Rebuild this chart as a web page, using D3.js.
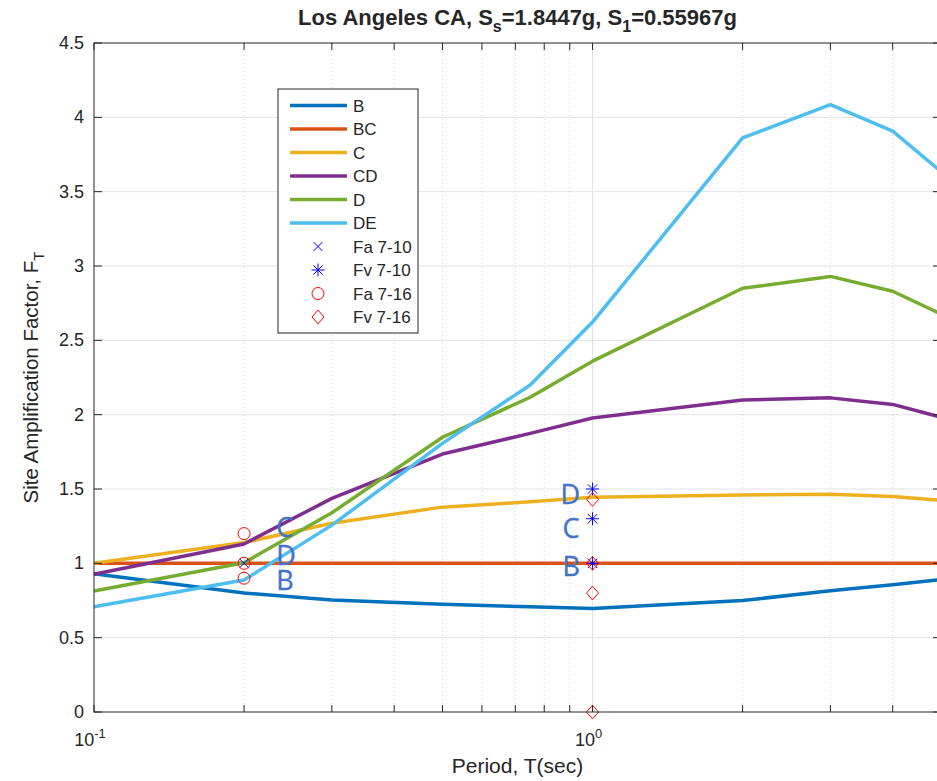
<!DOCTYPE html>
<html>
<head>
<meta charset="utf-8">
<script src="https://cdn.jsdelivr.net/npm/d3@7"></script>
<style>
body { margin: 0; background: #fff; }
text { font-family: "Liberation Sans", Arial, sans-serif; fill: #262626; }
</style>
</head>
<body>
<script>
// size of the page
var w = 937;
var h = 781;
var plot = { left: 94, right: 941, top: 43, bottom: 712 };

// periods where site factors were evaluated
const periods = [0.1, 0.2, 0.3, 0.5, 0.75, 1, 2, 3, 4, 5];

// site amplification factor per site class
const siteB  = [0.93, 0.80, 0.753, 0.724, 0.708, 0.697, 0.75, 0.815, 0.856, 0.89];
const siteBC = [1, 1, 1, 1, 1, 1, 1, 1, 1, 1];
const siteC  = [1.0, 1.14, 1.27, 1.378, 1.414, 1.444, 1.46, 1.465, 1.449, 1.424];
const siteCD = [0.926, 1.13, 1.437, 1.735, 1.874, 1.978, 2.098, 2.113, 2.069, 1.983];
const siteD  = [0.814, 1.004, 1.34, 1.848, 2.117, 2.36, 2.85, 2.93, 2.83, 2.677];
const siteDE = [0.708, 0.888, 1.257, 1.807, 2.20, 2.623, 3.862, 4.085, 3.907, 3.635];

const seriesNames = ["B", "BC", "C", "CD", "D", "DE"];
const seriesValues = [siteB, siteBC, siteC, siteCD, siteD, siteDE];
const seriesColors = ["#0072BD", "#D95319", "#EDB120", "#7E2F8E", "#77AC30", "#4DBEEE"];

// code table factors (ASCE 7-10 and 7-16)
const fa710T = [0.2];
const fa710  = [1.0];
const fv710T = [1, 1, 1];
const fv710  = [1.5, 1.3, 1.0];
const fa716T = [0.2, 0.2, 0.2];
const fa716  = [1.2, 1.0, 0.9];
const fv716T = [1, 1, 1, 1];
const fv716  = [1.43, 1.0, 0.8, 0];

// class labels written next to the table factors
const noteText = ["C", "D", "B", "D", "C", "B"];
const noteT    = [0.232, 0.232, 0.232, 0.862, 0.87, 0.87];
const noteF    = [1.177, 0.989, 0.82, 1.40, 1.17, 0.915];

// axis ticks
const yTicks = d3.range(0, 4.51, 0.5);
const yTickLabels = ["0", "0.5", "1", "1.5", "2", "2.5", "3", "3.5", "4", "4.5"];
const xMajor = [0.1, 1];
const xMajorExp = ["-1", "0"];
const xMinor = [0.2, 0.3, 0.4, 0.5, 0.6, 0.7, 0.8, 0.9, 2, 3, 4];

const x = d3.scaleLog().domain([0.1, 5]).range([plot.left, plot.right]);
const y = d3.scaleLinear().domain([0, 4.5]).range([plot.bottom, plot.top]);

const svg = d3.select("body").append("svg")
    .attr("width", w)
    .attr("height", h);

svg.append("rect").attr("width", w).attr("height", h).attr("fill", "#fff");

// grid
const grid = svg.append("g");
grid.selectAll(".gy").data(yTicks.slice(1, -1)).enter().append("line")
    .attr("x1", plot.left).attr("x2", plot.right)
    .attr("y1", d => y(d)).attr("y2", d => y(d))
    .attr("stroke", "#e3e3e3").attr("stroke-width", 1);
grid.selectAll(".gxm").data(xMinor).enter().append("line")
    .attr("x1", d => x(d)).attr("x2", d => x(d))
    .attr("y1", plot.top).attr("y2", plot.bottom)
    .attr("stroke", "#c8c8c8").attr("stroke-width", 0.8)
    .attr("stroke-dasharray", "1,3");
grid.append("line")
    .attr("x1", x(1)).attr("x2", x(1))
    .attr("y1", plot.top).attr("y2", plot.bottom)
    .attr("stroke", "#e3e3e3").attr("stroke-width", 1);

// lines
const line = d3.line()
    .x((d, i) => x(periods[i]))
    .y(d => y(d));

svg.append("g").selectAll("path")
    .data(seriesValues)
    .enter()
    .append("path")
    .attr("d", d => line(d))
    .attr("fill", "none")
    .attr("stroke", (d, i) => seriesColors[i])
    .attr("stroke-width", 3.5)
    .attr("stroke-linejoin", "round");

// marker shapes
function xMark(s) { return `M${-s},${-s}L${s},${s}M${-s},${s}L${s},${-s}`; }
function starMark(s) {
    const d = s * 0.72;
    return `M0,${-s}L0,${s}M${-s},0L${s},0M${-d},${-d}L${d},${d}M${-d},${d}L${d},${-d}`;
}
function diamondMark(s) { return `M0,${-s * 1.15}L${s},0L0,${s * 1.15}L${-s},0Z`; }

function drawMarks(ts, vs, kind, color) {
    const g = svg.append("g");
    vs.forEach((v, i) => {
        const px = x(ts[i]), py = y(v);
        if (kind === "o") {
            g.append("circle").attr("cx", px).attr("cy", py).attr("r", 6)
                .attr("fill", "none").attr("stroke", color).attr("stroke-width", 1);
        } else {
            const p = kind === "x" ? xMark(4.5) : kind === "*" ? starMark(6.5) : diamondMark(6);
            g.append("path").attr("d", p).attr("transform", `translate(${px},${py})`)
                .attr("fill", "none").attr("stroke", color).attr("stroke-width", 1);
        }
    });
}
drawMarks(fa710T, fa710, "x", "#0000ff");
drawMarks(fv710T, fv710, "*", "#0000ff");
drawMarks(fa716T, fa716, "o", "#ff0000");
drawMarks(fv716T, fv716, "d", "#ff0000");

// class annotations
svg.append("g").selectAll("text")
    .data(noteText)
    .enter()
    .append("text")
    .attr("x", (d, i) => x(noteT[i]))
    .attr("y", (d, i) => y(noteF[i]))
    .style("font-family", "'Open Sans', 'Noto Sans', sans-serif")
    .style("font-size", "27px")
    .style("fill", "#4472C4")
    .style("stroke", "#4472C4")
    .style("stroke-width", 0.4)
    .text(d => d);

// axes box
const axis = svg.append("g").attr("stroke", "#262626").attr("stroke-width", 1);
axis.append("rect")
    .attr("x", plot.left).attr("y", plot.top)
    .attr("width", plot.right - plot.left).attr("height", plot.bottom - plot.top)
    .attr("fill", "none");

// y ticks on both sides
axis.selectAll(".ytl").data(yTicks).enter().append("line")
    .attr("x1", plot.left).attr("x2", plot.left + 8)
    .attr("y1", d => y(d)).attr("y2", d => y(d));
axis.selectAll(".ytr").data(yTicks).enter().append("line")
    .attr("x1", plot.right).attr("x2", plot.right - 8)
    .attr("y1", d => y(d)).attr("y2", d => y(d));

// x ticks on top and bottom
const xAll = xMajor.concat(xMinor);
axis.selectAll(".xtb").data(xAll).enter().append("line")
    .attr("x1", d => x(d)).attr("x2", d => x(d))
    .attr("y1", plot.bottom).attr("y2", plot.bottom - 7);
axis.selectAll(".xtt").data(xAll).enter().append("line")
    .attr("x1", d => x(d)).attr("x2", d => x(d))
    .attr("y1", plot.top).attr("y2", plot.top + 7);

// tick labels
svg.append("g").selectAll("text")
    .data(yTicks)
    .enter()
    .append("text")
    .attr("x", plot.left - 10)
    .attr("y", d => y(d) + 6)
    .attr("text-anchor", "end")
    .style("font-size", "18px")
    .text((d, i) => yTickLabels[i]);

const xl = svg.append("g").selectAll("text")
    .data(xMajor)
    .enter()
    .append("text")
    .attr("x", d => x(d) - 4)
    .attr("y", 746)
    .attr("text-anchor", "middle")
    .style("font-size", "18px");
xl.append("tspan").text("10");
xl.append("tspan").attr("dy", -8).style("font-size", "13px").text((d, i) => xMajorExp[i]);

// axis titles
svg.append("text")
    .attr("x", (plot.left + plot.right) / 2)
    .attr("y", 773)
    .attr("text-anchor", "middle")
    .style("font-size", "21px")
    .text("Period, T(sec)");

const yl = svg.append("text")
    .attr("transform", `translate(38,${(plot.top + plot.bottom) / 2}) rotate(-90)`)
    .attr("text-anchor", "middle")
    .style("font-size", "20.5px");
yl.append("tspan").text("Site Amplification Factor, F");
yl.append("tspan").attr("dy", 6).style("font-size", "15px").text("T");

const title = svg.append("text")
    .attr("x", (plot.left + plot.right) / 2)
    .attr("y", 25)
    .attr("text-anchor", "middle")
    .style("font-size", "22px")
    .style("font-weight", "bold");
title.append("tspan").text("Los Angeles CA, S");
title.append("tspan").attr("dy", 7).style("font-size", "16px").text("s");
title.append("tspan").attr("dy", -7).text("=1.8447g, S");
title.append("tspan").attr("dy", 7).style("font-size", "16px").text("1");
title.append("tspan").attr("dy", -7).text("=0.55967g");

// legend
const leg = svg.append("g").attr("transform", "translate(278,89)");
leg.append("rect").attr("width", 140).attr("height", 244)
    .attr("fill", "#fff").attr("stroke", "#262626").attr("stroke-width", 1);

const legRows = seriesNames.concat(["Fa 7-10", "Fv 7-10", "Fa 7-16", "Fv 7-16"]);
const rowY = i => 16.5 + i * 23.5;
legRows.forEach((name, i) => {
    const ry = rowY(i);
    if (i < seriesNames.length) {
        leg.append("line").attr("x1", 12).attr("x2", 69).attr("y1", ry).attr("y2", ry)
            .attr("stroke", seriesColors[i]).attr("stroke-width", 3.5);
    }
    leg.append("text").attr("x", 75).attr("y", ry + 6)
        .style("font-size", "17px").text(name);
});
const mk = [["x", "#0000ff"], ["*", "#0000ff"], ["o", "#ff0000"], ["d", "#ff0000"]];
mk.forEach((m, j) => {
    const ry = rowY(6 + j);
    if (m[0] === "o") {
        leg.append("circle").attr("cx", 40).attr("cy", ry).attr("r", 6)
            .attr("fill", "none").attr("stroke", m[1]);
    } else {
        const p = m[0] === "x" ? xMark(4.5) : m[0] === "*" ? starMark(6.5) : diamondMark(6);
        leg.append("path").attr("d", p).attr("transform", `translate(40,${ry})`)
            .attr("fill", "none").attr("stroke", m[1]);
    }
});
</script>
</body>
</html>
